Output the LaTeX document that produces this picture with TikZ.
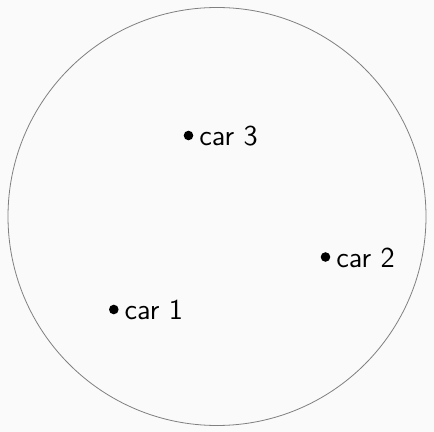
\documentclass[tikz,border=0pt]{standalone}
\usepackage{tikz}
\usetikzlibrary{positioning}
\definecolor{bgpaper}{RGB}{250,250,250}
\renewcommand{\familydefault}{\sfdefault}

\begin{document}
\begin{tikzpicture}[x=0.5pt, y=-0.5pt, font=\sffamily\Large,
  cardot/.style={circle, fill=black, inner sep=0pt, minimum size=4.8pt},
  carlabel/.style={anchor=base west, inner sep=0pt}]
  % page and margins
  \fill[bgpaper] (0, 0) rectangle (434, 432);
  \useasboundingbox (0, 0) rectangle (434, 432);
  % the round area
  \draw[gray, line width=0.4pt] (217, 216.5) circle (209);
  % cars: dot, then its name just right of it
  \foreach \n/\x/\y in {1/113.8/309.5, 2/325.5/257, 3/188.5/135.5} {
    \node[cardot] (dot\n) at (\x, \y) {};
    \node[carlabel] (car\n) at ([shift={(10.5,10.5)}]dot\n.center) {car \n};
  }
\end{tikzpicture}
\end{document}
